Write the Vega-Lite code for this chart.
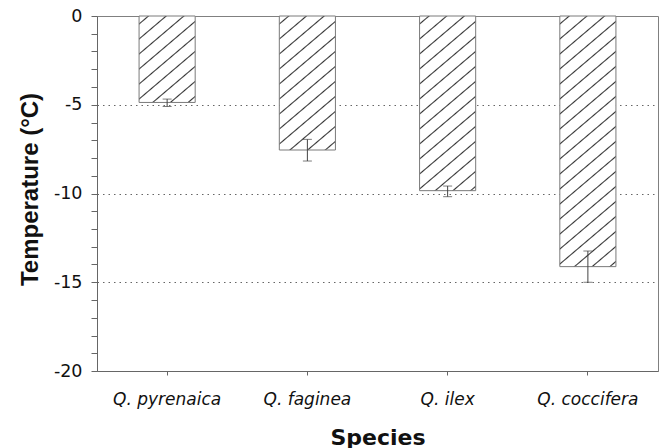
{
  "$schema": "https://vega.github.io/schema/vega-lite/v6.json",
  "width": 561,
  "height": 355,
  "autosize": {"type": "none"},
  "padding": {"left": 97, "top": 16, "right": 3, "bottom": 77},
  "background": "white",
  "config": {"view": {"stroke": "#808080", "strokeWidth": 1}, "font": "DejaVu Sans"},
  "resolve": {"axis": {"y": "independent"}},
  "data": {
    "values": [
      {"species": "Q. pyrenaica", "value": -4.87, "low": -5.1, "high": -4.68},
      {"species": "Q. faginea", "value": -7.55, "low": -8.17, "high": -6.95},
      {"species": "Q. ilex", "value": -9.84, "low": -10.18, "high": -9.58},
      {"species": "Q. coccifera", "value": -14.12, "low": -15.0, "high": -13.24}
    ]
  },
  "encoding": {
    "x": {
      "field": "species",
      "type": "nominal",
      "sort": null,
      "scale": {"paddingInner": 0.6, "paddingOuter": 0.3},
      "axis": {
        "title": "Species",
        "labelAngle": 0,
        "labelFont": "DejaVu Sans",
        "labelFontStyle": "italic",
        "labelFontSize": 17,
        "labelColor": "#111",
        "labelPadding": 16,
        "tickSize": 4,
        "tickColor": "#666",
        "domainColor": "#666",
        "grid": false,
        "titleFont": "DejaVu Sans",
        "titleFontWeight": "bold",
        "titleFontSize": 22,
        "titleColor": "#111",
        "titleY": 73,
        "titleBaseline": "alphabetic"
      }
    }
  },
  "layer": [
    {
      "mark": {"type": "bar", "stroke": "#7a7a7a", "strokeWidth": 1},
      "encoding": {
        "y": {
          "field": "value",
          "type": "quantitative",
          "title": "Temperature (°C)",
          "scale": {"domain": [-20, 0], "nice": false},
          "axis": {
            "orient": "left",
            "values": [-20, -19, -18, -17, -16, -15, -14, -13, -12, -11, -10, -9, -8, -7, -6, -5, -4, -3, -2, -1, 0],
            "labelExpr": "datum.value % 5 === 0 ? datum.value + '' : ''",
            "labelOverlap": false,
            "labelFont": "DejaVu Sans",
            "labelFontSize": 17.5,
            "labelColor": "#111",
            "labelPadding": 9,
            "tickSize": 6,
            "tickColor": "#666",
            "domainColor": "#666",
            "grid": true,
            "gridColor": "#666",
            "gridDash": [1.5, 4],
            "gridOpacity": {"condition": {"test": "datum.value % 5 === 0 && datum.value > -20 && datum.value < 0", "value": 1}, "value": 0},
            "encode": {
              "ticks": {
                "x": {"condition": {"test": "datum.value % 5 !== 0", "value": 3.4}, "value": 0},
                "x2": {"condition": {"test": "datum.value % 5 !== 0", "value": -3.4}, "value": -6}
              }
            },
            "titleFont": "Liberation Sans",
            "titleFontSize": 24,
            "titleFontWeight": "bold",
            "titleColor": "#111",
            "titleAngle": 270,
            "titleX": -60,
            "titleY": 173,
            "titleBaseline": "alphabetic"
          }
        },
        "fill": {
          "condition": [
            {"test": "datum.species === 'Q. pyrenaica'", "value": {"gradient": "linear", "x1": 0, "y1": 0, "x2": 0.6555, "y2": 1.1898, "stops": [
              {"offset": 0.0493, "color": "white"}, {"offset": 0.0597, "color": "#333"}, {"offset": 0.0701, "color": "white"},
              {"offset": 0.1612, "color": "white"}, {"offset": 0.1716, "color": "#333"}, {"offset": 0.1821, "color": "white"},
              {"offset": 0.2731, "color": "white"}, {"offset": 0.2836, "color": "#333"}, {"offset": 0.2940, "color": "white"},
              {"offset": 0.3851, "color": "white"}, {"offset": 0.3955, "color": "#333"}, {"offset": 0.4060, "color": "white"},
              {"offset": 0.4970, "color": "white"}, {"offset": 0.5075, "color": "#333"}, {"offset": 0.5179, "color": "white"},
              {"offset": 0.6090, "color": "white"}, {"offset": 0.6194, "color": "#333"}, {"offset": 0.6299, "color": "white"},
              {"offset": 0.7209, "color": "white"}, {"offset": 0.7313, "color": "#333"}, {"offset": 0.7418, "color": "white"},
              {"offset": 0.8328, "color": "white"}, {"offset": 0.8433, "color": "#333"}, {"offset": 0.8537, "color": "white"},
              {"offset": 0.9448, "color": "white"}, {"offset": 0.9552, "color": "#333"}, {"offset": 0.9657, "color": "white"}
            ]}},
            {"test": "datum.species === 'Q. faginea'", "value": {"gradient": "linear", "x1": 0, "y1": 0, "x2": 0.42747, "y2": 1.20337, "stops": [
              {"offset": 0.0363, "color": "white"}, {"offset": 0.0441, "color": "#333"}, {"offset": 0.0518, "color": "white"},
              {"offset": 0.1189, "color": "white"}, {"offset": 0.1267, "color": "#333"}, {"offset": 0.1344, "color": "white"},
              {"offset": 0.2015, "color": "white"}, {"offset": 0.2093, "color": "#333"}, {"offset": 0.2170, "color": "white"},
              {"offset": 0.2841, "color": "white"}, {"offset": 0.2919, "color": "#333"}, {"offset": 0.2996, "color": "white"},
              {"offset": 0.3667, "color": "white"}, {"offset": 0.3744, "color": "#333"}, {"offset": 0.3822, "color": "white"},
              {"offset": 0.4493, "color": "white"}, {"offset": 0.4571, "color": "#333"}, {"offset": 0.4648, "color": "white"},
              {"offset": 0.5319, "color": "white"}, {"offset": 0.5396, "color": "#333"}, {"offset": 0.5474, "color": "white"},
              {"offset": 0.6145, "color": "white"}, {"offset": 0.6222, "color": "#333"}, {"offset": 0.6300, "color": "white"},
              {"offset": 0.6971, "color": "white"}, {"offset": 0.7048, "color": "#333"}, {"offset": 0.7126, "color": "white"},
              {"offset": 0.7797, "color": "white"}, {"offset": 0.7874, "color": "#333"}, {"offset": 0.7952, "color": "white"},
              {"offset": 0.8623, "color": "white"}, {"offset": 0.8700, "color": "#333"}, {"offset": 0.8778, "color": "white"},
              {"offset": 0.9449, "color": "white"}, {"offset": 0.9526, "color": "#333"}, {"offset": 0.9604, "color": "white"}
            ]}},
            {"test": "datum.species === 'Q. ilex'", "value": {"gradient": "linear", "x1": 0, "y1": 0, "x2": 0.32274, "y2": 1.18452, "stops": [
              {"offset": 0.0297, "color": "white"}, {"offset": 0.0360, "color": "#333"}, {"offset": 0.0423, "color": "white"},
              {"offset": 0.0972, "color": "white"}, {"offset": 0.1035, "color": "#333"}, {"offset": 0.1098, "color": "white"},
              {"offset": 0.1646, "color": "white"}, {"offset": 0.1709, "color": "#333"}, {"offset": 0.1772, "color": "white"},
              {"offset": 0.2321, "color": "white"}, {"offset": 0.2384, "color": "#333"}, {"offset": 0.2447, "color": "white"},
              {"offset": 0.2996, "color": "white"}, {"offset": 0.3059, "color": "#333"}, {"offset": 0.3122, "color": "white"},
              {"offset": 0.3671, "color": "white"}, {"offset": 0.3734, "color": "#333"}, {"offset": 0.3797, "color": "white"},
              {"offset": 0.4346, "color": "white"}, {"offset": 0.4409, "color": "#333"}, {"offset": 0.4472, "color": "white"},
              {"offset": 0.5020, "color": "white"}, {"offset": 0.5083, "color": "#333"}, {"offset": 0.5146, "color": "white"},
              {"offset": 0.5695, "color": "white"}, {"offset": 0.5758, "color": "#333"}, {"offset": 0.5821, "color": "white"},
              {"offset": 0.6370, "color": "white"}, {"offset": 0.6433, "color": "#333"}, {"offset": 0.6496, "color": "white"},
              {"offset": 0.7045, "color": "white"}, {"offset": 0.7108, "color": "#333"}, {"offset": 0.7171, "color": "white"},
              {"offset": 0.7719, "color": "white"}, {"offset": 0.7782, "color": "#333"}, {"offset": 0.7845, "color": "white"},
              {"offset": 0.8394, "color": "white"}, {"offset": 0.8457, "color": "#333"}, {"offset": 0.8520, "color": "white"},
              {"offset": 0.9069, "color": "white"}, {"offset": 0.9132, "color": "#333"}, {"offset": 0.9195, "color": "white"},
              {"offset": 0.9744, "color": "white"}, {"offset": 0.9807, "color": "#333"}, {"offset": 0.9870, "color": "white"}
            ]}},
            {"test": "datum.species === 'Q. coccifera'", "value": {"gradient": "linear", "x1": 0, "y1": 0, "x2": 0.21815, "y2": 1.14853, "stops": [
              {"offset": 0.0221, "color": "white"}, {"offset": 0.0268, "color": "#333"}, {"offset": 0.0315, "color": "white"},
              {"offset": 0.0724, "color": "white"}, {"offset": 0.0771, "color": "#333"}, {"offset": 0.0818, "color": "white"},
              {"offset": 0.1227, "color": "white"}, {"offset": 0.1274, "color": "#333"}, {"offset": 0.1321, "color": "white"},
              {"offset": 0.1730, "color": "white"}, {"offset": 0.1777, "color": "#333"}, {"offset": 0.1824, "color": "white"},
              {"offset": 0.2233, "color": "white"}, {"offset": 0.2280, "color": "#333"}, {"offset": 0.2327, "color": "white"},
              {"offset": 0.2736, "color": "white"}, {"offset": 0.2783, "color": "#333"}, {"offset": 0.2830, "color": "white"},
              {"offset": 0.3239, "color": "white"}, {"offset": 0.3286, "color": "#333"}, {"offset": 0.3333, "color": "white"},
              {"offset": 0.3742, "color": "white"}, {"offset": 0.3789, "color": "#333"}, {"offset": 0.3836, "color": "white"},
              {"offset": 0.4245, "color": "white"}, {"offset": 0.4292, "color": "#333"}, {"offset": 0.4339, "color": "white"},
              {"offset": 0.4748, "color": "white"}, {"offset": 0.4795, "color": "#333"}, {"offset": 0.4842, "color": "white"},
              {"offset": 0.5251, "color": "white"}, {"offset": 0.5298, "color": "#333"}, {"offset": 0.5345, "color": "white"},
              {"offset": 0.5754, "color": "white"}, {"offset": 0.5801, "color": "#333"}, {"offset": 0.5848, "color": "white"},
              {"offset": 0.6258, "color": "white"}, {"offset": 0.6304, "color": "#333"}, {"offset": 0.6351, "color": "white"},
              {"offset": 0.6761, "color": "white"}, {"offset": 0.6807, "color": "#333"}, {"offset": 0.6854, "color": "white"},
              {"offset": 0.7264, "color": "white"}, {"offset": 0.7311, "color": "#333"}, {"offset": 0.7358, "color": "white"},
              {"offset": 0.7767, "color": "white"}, {"offset": 0.7814, "color": "#333"}, {"offset": 0.7860, "color": "white"},
              {"offset": 0.8270, "color": "white"}, {"offset": 0.8317, "color": "#333"}, {"offset": 0.8364, "color": "white"},
              {"offset": 0.8773, "color": "white"}, {"offset": 0.8820, "color": "#333"}, {"offset": 0.8867, "color": "white"},
              {"offset": 0.9276, "color": "white"}, {"offset": 0.9323, "color": "#333"}, {"offset": 0.9370, "color": "white"},
              {"offset": 0.9779, "color": "white"}, {"offset": 0.9826, "color": "#333"}, {"offset": 0.9873, "color": "white"}
            ]}}
          ],
          "value": "white"
        }
      }
    },
    {
      "mark": {"type": "rule", "color": "#444", "strokeWidth": 1},
      "encoding": {
        "y": {"field": "low", "type": "quantitative", "axis": null},
        "y2": {"field": "high"}
      }
    },
    {
      "mark": {"type": "tick", "color": "#444", "thickness": 1, "size": 9},
      "encoding": {"y": {"field": "low", "type": "quantitative", "axis": null}}
    },
    {
      "mark": {"type": "tick", "color": "#444", "thickness": 1, "size": 9},
      "encoding": {"y": {"field": "high", "type": "quantitative", "axis": null}}
    }
  ]
}
